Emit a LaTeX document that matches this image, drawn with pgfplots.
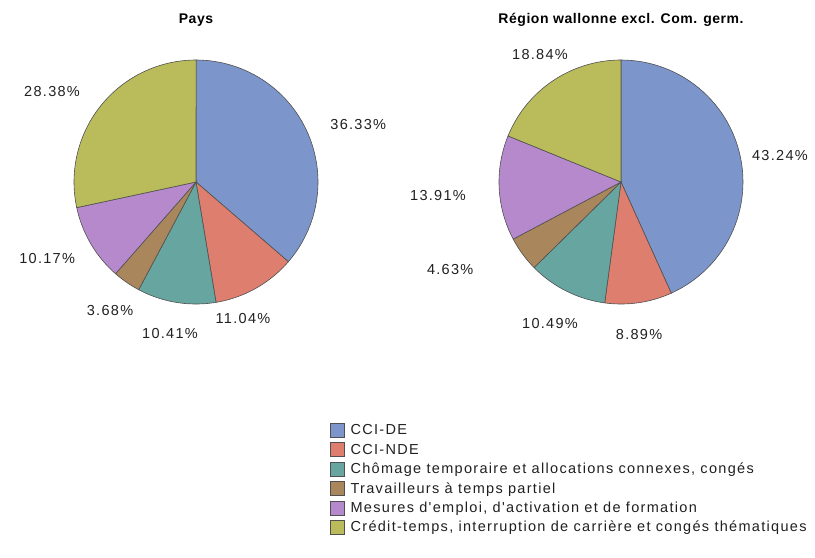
\documentclass[border=0pt]{standalone}
\usepackage{fontspec}
\setmainfont{Liberation Sans}
\newfontfamily\labfamily{Liberation Sans}[LetterSpace=9,Ligatures=TeXOff]
\newfontfamily\titfamily{Liberation Sans}[LetterSpace=4,Ligatures=TeXOff]
\usepackage{pgfplots}
\pgfplotsset{compat=1.18}

\definecolor{cA}{HTML}{7C95CA}
\definecolor{cB}{HTML}{DE7E6F}
\definecolor{cC}{HTML}{66A5A0}
\definecolor{cD}{HTML}{A9865B}
\definecolor{cE}{HTML}{B689CD}
\definecolor{cF}{HTML}{BABC5C}
\definecolor{piedraw}{HTML}{505050}
\definecolor{txt}{HTML}{202020}

\newcommand\labfont{\labfamily\fontsize{14.5bp}{17bp}\selectfont}
\newcommand\titfont{\titfamily\bfseries\fontsize{14bp}{16bp}\selectfont}

% #1 percent value, #2 colour, #3 #4 label position (radius units)
\newcommand\pieslice[4]{%
  \pgfmathsetmacro\aStart{90-3.6*\cum}%
  \pgfmathsetmacro\aEnd{90-3.6*(\cum+#1)}%
  \edef\temp{\noexpand\addplot[fill=#2, draw=piedraw, line width=0.6bp,
     domain=\aEnd:\aStart, samples=60, variable=\noexpand\t]
     ({cos(\noexpand\t)},{sin(\noexpand\t)}) -- (axis cs:0,0) -- cycle;}%
  \temp
  \node[font=\labfont, text=txt] at (axis cs:#3,#4) {#1\%};%
  \pgfmathsetmacro\newcum{\cum+#1}%
  \xdef\cum{\newcum}%
}

\pgfplotsset{
  pieaxis/.style={anchor=center, x=122bp, y=122bp,
    xmin=-1.55, xmax=1.55, ymin=-1.4, ymax=1.4,
    hide axis, clip=false}
}

\begin{document}
\begin{tikzpicture}
\begin{axis}[pieaxis, at={(196bp,-182bp)},
  legend image code/.code={\draw[#1, line width=0.6bp] (0bp,-7bp) rectangle (14bp,7bp);},
  legend cell align=left,
  legend style={at={(axis cs:1.0984,-1.9754)}, anchor=north west,
    draw=none, fill=none, inner sep=0pt, outer sep=0pt, row sep=4.8bp,
    font=\labfont, text=txt,
    nodes={inner sep=0pt, outer sep=0pt},
    /tikz/every odd column/.append style={column sep=6bp}}]
\gdef\cum{0}
\pieslice{36.33}{cA}{1.33}{0.47}
\addlegendentry{CCI-DE}
\pieslice{11.04}{cB}{0.385}{-1.115}
\addlegendentry{CCI-NDE}
\pieslice{10.41}{cC}{-0.213}{-1.238}
\addlegendentry{Chômage temporaire et allocations connexes, congés}
\pieslice{3.68}{cD}{-0.705}{-1.05}
\addlegendentry{Travailleurs à temps partiel}
\pieslice{10.17}{cE}{-1.22}{-0.623}
\addlegendentry{Mesures d'emploi, d'activation et de formation}
\pieslice{28.38}{cF}{-1.18}{0.738}
\addlegendentry{Crédit-temps, interruption de carrière et congés thématiques}
\end{axis}

\begin{axis}[pieaxis, at={(621bp,-182bp)}]
\gdef\cum{0}
\pieslice{43.24}{cA}{1.303}{0.221}
\pieslice{8.89}{cB}{0.148}{-1.246}
\pieslice{10.49}{cC}{-0.582}{-1.156}
\pieslice{4.63}{cD}{-1.40}{-0.721}
\pieslice{13.91}{cE}{-1.50}{-0.107}
\pieslice{18.84}{cF}{-0.664}{1.041}
\end{axis}

\node[font=\titfont, text=black] at (196bp,-20bp) {Pays};
\node[font=\titfont, text=black] at (621bp,-20bp) {Région wallonne excl. Com. germ.};

\pgfresetboundingbox
\path[use as bounding box] (0bp,0bp) rectangle (815bp,-558bp);
\end{tikzpicture}
\end{document}
